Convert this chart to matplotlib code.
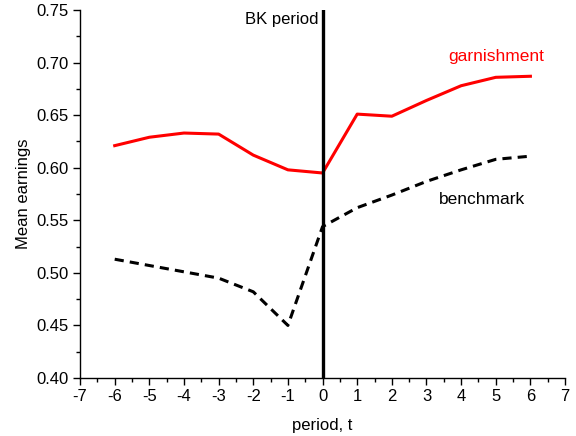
import matplotlib
matplotlib.use("Agg")
import matplotlib.pyplot as plt
from matplotlib.ticker import MultipleLocator

plt.rcParams['font.family'] = ['Liberation Sans', 'DejaVu Sans']
plt.rcParams['axes.unicode_minus'] = False

t = [-6, -5, -4, -3, -2, -1, 0, 1, 2, 3, 4, 5, 6]
garnishment = [0.621, 0.629, 0.633, 0.632, 0.612, 0.598, 0.595, 0.651, 0.649, 0.664, 0.678, 0.686, 0.687]
benchmark = [0.513, 0.507, 0.501, 0.495, 0.482, 0.450, 0.544, 0.562, 0.574, 0.587, 0.598, 0.608, 0.611]

fig = plt.figure(figsize=(5.76, 4.36), dpi=100)
ax = fig.add_axes([0.139, 0.133, 0.842, 0.844])

ax.plot(t, garnishment, color='#ff0000', lw=2.2)
ax.plot(t, benchmark, color='black', lw=2.2, dashes=(3, 2))
ax.axvline(0, color='black', lw=2.4)

ax.set_xlim(-7, 7)
ax.set_ylim(0.40, 0.75)
ax.xaxis.set_major_locator(MultipleLocator(1))
ax.xaxis.set_minor_locator(MultipleLocator(0.5))
ax.yaxis.set_major_locator(MultipleLocator(0.05))
ax.yaxis.set_minor_locator(MultipleLocator(0.025))
ax.yaxis.set_major_formatter(plt.FuncFormatter(lambda v, p: f"{v:.2f}"))
ax.tick_params(which='major', direction='out', length=5, width=1, labelsize=12, pad=3)
ax.tick_params(which='minor', direction='out', length=3, width=1)
for s in ['top', 'right']:
    ax.spines[s].set_visible(False)
for s in ['left', 'bottom']:
    ax.spines[s].set_linewidth(1)

ax.set_xlabel('period, t', fontsize=12, labelpad=10)
ax.set_ylabel('Mean earnings', fontsize=12, labelpad=4)

ax.text(-0.12, 0.741, 'BK period', ha='right', va='center', fontsize=12)
ax.text(5.0, 0.706, 'garnishment', ha='center', va='center', fontsize=12.5, color='#ff0000')
ax.text(4.6, 0.570, 'benchmark', ha='center', va='center', fontsize=12.5, color='black')

fig.savefig('out.png', dpi=100)
